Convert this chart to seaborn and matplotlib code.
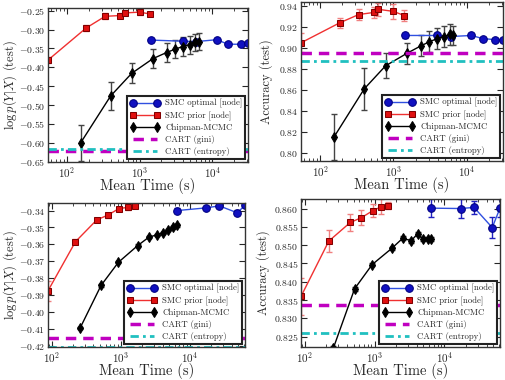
import numpy as np
import pandas as pd
import matplotlib
matplotlib.use("Agg")
import matplotlib.pyplot as plt
from matplotlib.ticker import MultipleLocator
import seaborn as sns

# --- data ------------------------------------------------------------------
# top row (dataset 1): log-likelihood (left) and accuracy (right)
red_x_top = [55, 184, 336, 537, 624, 1000, 1409]
blue_x_top = [1450, 3900, 6000, 11500, 16500, 24500, 31000]
black_x_top = [155, 400, 780, 1530, 2350, 3080, 3940, 4880, 5850, 6500]

red_ll_top = [-0.381, -0.296, -0.265, -0.263, -0.256, -0.254, -0.259]
red_ll_top_err = [0.007, 0.008, 0.008, 0.007, 0.006, 0.007, 0.005]
blue_ll_top = [-0.328, -0.331, -0.332, -0.327, -0.339, -0.339, -0.336]
blue_ll_top_err = [0.005, 0.005, 0.004, 0.004, 0.004, 0.004, 0.004]
black_ll_top = [-0.600, -0.476, -0.416, -0.377, -0.361, -0.352, -0.345, -0.340, -0.334, -0.332]
black_ll_top_err = [0.048, 0.037, 0.026, 0.026, 0.024, 0.024, 0.024, 0.024, 0.022, 0.022]
cart_ll_top = [-0.623, -0.617]  # gini, entropy

red_acc_top = [0.905, 0.924, 0.932, 0.934, 0.937, 0.935, 0.931]
red_acc_top_err = [0.009, 0.005, 0.005, 0.005, 0.006, 0.007, 0.005]
blue_acc_top = [0.912, 0.912, 0.911, 0.912, 0.909, 0.908, 0.908]
blue_acc_top_err = [0.002, 0.002, 0.002, 0.002, 0.002, 0.002, 0.002]
black_acc_top = [0.815, 0.861, 0.883, 0.895, 0.902, 0.906, 0.909, 0.911, 0.913, 0.912]
black_acc_top_err = [0.022, 0.020, 0.012, 0.010, 0.010, 0.010, 0.010, 0.010, 0.010, 0.009]
cart_acc_top = [0.895, 0.888]

# bottom row (dataset 2)
red_x_bot = [88, 220, 447, 645, 936, 1250, 1575]
blue_x_bot = [6410, 17000, 26500, 48300, 62400]
black_x_bot = [257, 516, 920, 1750, 2525, 3330, 4110, 4860, 5740, 6410]

red_ll_bot = [-0.3875, -0.3584, -0.3455, -0.3427, -0.3388, -0.3381, -0.3373]
red_ll_bot_err = [0.006, 0.0015, 0.001, 0.0015, 0.0008, 0.0015, 0.001]
blue_ll_bot = [-0.3400, -0.3384, -0.3372, -0.3413, -0.3368]
blue_ll_bot_err = [0.0015, 0.0008, 0.0008, 0.0015, 0.0008]
black_ll_bot = [-0.4095, -0.3843, -0.3706, -0.3607, -0.3558, -0.3543, -0.3531, -0.3514, -0.3500, -0.3488]
black_ll_bot_err = [0.0007] * 10
cart_ll_bot = [-0.4155, -0.4208]

red_acc_bot = [0.8360, 0.8511, 0.8562, 0.8575, 0.8594, 0.8605, 0.8608]
red_acc_bot_err = [0.005, 0.003, 0.0022, 0.002, 0.0018, 0.002, 0.001]
blue_acc_bot = [0.8601, 0.8600, 0.8603, 0.8548, 0.8601]
blue_acc_bot_err = [0.0025, 0.0025, 0.0018, 0.0028, 0.0025]
black_acc_bot = [0.8220, 0.8381, 0.8447, 0.8491, 0.8519, 0.8512, 0.8531, 0.8517, 0.8518, 0.8517]
black_acc_bot_err = [0.0005] * 10
cart_acc_bot = [0.8338, 0.8261]

labels = ["SMC optimal [node]", "SMC prior [node]", "Chipman-MCMC", "CART (gini)", "CART (entropy)"]
ll_label = r"$\log p(Y|X)$ (test)"
acc_label = "Accuracy (test)"

# --- style -----------------------------------------------------------------
sns.set_style("ticks")
plt.rcParams.update({
    "font.family": "serif",
    "font.serif": ["cmr10", "DejaVu Serif"],
    "mathtext.fontset": "cm",
    "axes.formatter.use_mathtext": True,
    "axes.unicode_minus": True,
    "xtick.direction": "in",
    "ytick.direction": "in",
    "xtick.top": True,
    "ytick.right": True,
    "axes.edgecolor": "#333333",
    "axes.linewidth": 1.0,
})

fig = plt.figure(figsize=(5.06, 3.80), dpi=100)
W, H = 506, 380


def add_ax(l, r, t, b):
    return fig.add_axes([l / W, 1 - b / H, (r - l) / W, (b - t) / H])


def draw_panel(ax, rx, ry, re, bx, by, be, kx, ky, ke, cart, ylabel, ylim, ystep, label_x):
    ax.set_xscale("log")
    # error bars first
    ax.errorbar(bx, by, yerr=be, fmt="none", ecolor="#2020c0", capsize=2.5, elinewidth=1)
    ax.errorbar(rx, ry, yerr=re, fmt="none", ecolor="#f08080", capsize=2.5, elinewidth=1)
    ax.errorbar(kx, ky, yerr=ke, fmt="none", ecolor="#444444", capsize=2.5, elinewidth=1)

    sns.lineplot(x=bx, y=by, ax=ax, color="#3050e0", lw=1, marker="o", markersize=5.5,
                 markerfacecolor="#1010c0", markeredgecolor="#000080", label=labels[0])
    sns.lineplot(x=rx, y=ry, ax=ax, color="#f03030", lw=1, marker="s", markersize=5,
                 markerfacecolor="#e01010", markeredgecolor="#800000", label=labels[1])
    sns.lineplot(x=kx, y=ky, ax=ax, color="black", lw=1, marker="d", markersize=5,
                 markerfacecolor="black", markeredgecolor="black", label=labels[2])
    ax.axhline(cart[0], color="#c000c0", ls=(0, (3, 2)), lw=2.5, label=labels[3])
    ax.axhline(cart[1], color="#20c0c0", ls=(0, (3, 1.5, 1, 1.5)), lw=2, label=labels[4])

    ax.set_xlim(min(rx), max(bx))
    ax.set_ylim(*ylim)
    ax.yaxis.set_major_locator(MultipleLocator(ystep))
    ax.set_xlabel("Mean Time (s)", fontsize=10.5, labelpad=-1)
    ax.set_ylabel(ylabel, fontsize=9)
    # place the y label so it stays inside the figure
    bbox = ax.get_position()
    ax.yaxis.set_label_coords((label_x / W - bbox.x0) / bbox.width, 0.5)
    ax.tick_params(axis="y", labelsize=7, length=4, pad=2)
    ax.tick_params(axis="x", labelsize=8, length=4, pad=2)
    ax.tick_params(which="minor", length=2, direction="in", top=True)
    leg = ax.legend(loc="lower right", numpoints=2, fontsize=6.3, handlelength=3.4,
                    fancybox=False, framealpha=1, borderpad=0.35, labelspacing=0.35,
                    borderaxespad=0.3, handletextpad=0.6)
    leg.get_frame().set_edgecolor("#222222")
    leg.get_frame().set_linewidth(1.5)


ax1 = add_ax(48, 248, 8, 162)
ax2 = add_ax(301, 503, 2, 161)
ax3 = add_ax(48, 245, 203, 347)
ax4 = add_ax(301, 500, 199, 347)

draw_panel(ax1, red_x_top, red_ll_top, red_ll_top_err, blue_x_top, blue_ll_top, blue_ll_top_err,
           black_x_top, black_ll_top, black_ll_top_err, cart_ll_top, ll_label, (-0.651, -0.243), 0.05, 19)
draw_panel(ax2, red_x_top, red_acc_top, red_acc_top_err, blue_x_top, blue_acc_top, blue_acc_top_err,
           black_x_top, black_acc_top, black_acc_top_err, cart_acc_top, acc_label, (0.792, 0.944), 0.02, 273)
draw_panel(ax3, red_x_bot, red_ll_bot, red_ll_bot_err, blue_x_bot, blue_ll_bot, blue_ll_bot_err,
           black_x_bot, black_ll_bot, black_ll_bot_err, cart_ll_bot, ll_label, (-0.4208, -0.3355), 0.01, 19)
draw_panel(ax4, red_x_bot, red_acc_bot, red_acc_bot_err, blue_x_bot, blue_acc_bot, blue_acc_bot_err,
           black_x_bot, black_acc_bot, black_acc_bot_err, cart_acc_bot, acc_label, (0.8222, 0.8626), 0.005, 270)

fig.savefig("out.png", dpi=100)
